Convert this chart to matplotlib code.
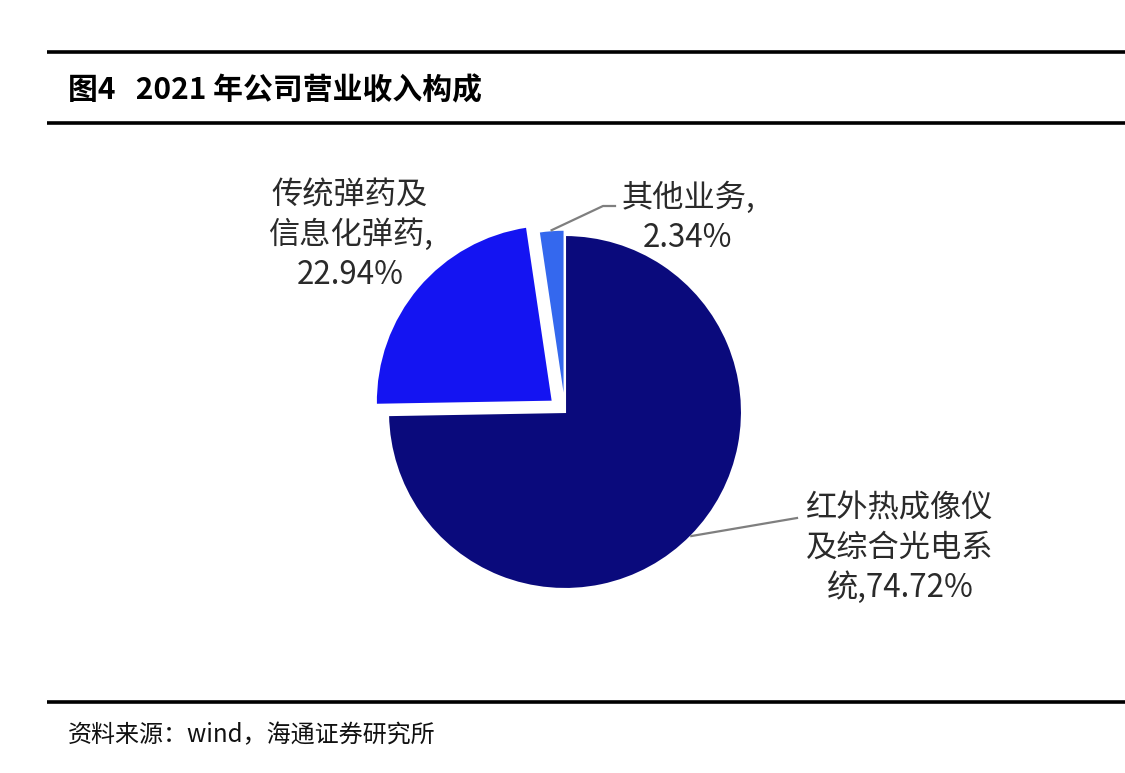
import matplotlib
matplotlib.use('Agg')
import matplotlib.pyplot as plt
import numpy as np

plt.rcParams['font.family'] = ['Noto Sans CJK SC', 'DejaVu Sans']

# data
labels = ['其他业务,\n2.34%', '传统弹药及\n信息化弹药,\n22.94%', '红外热成像仪\n及综合光电系\n统,74.72%']
shares = [2.34, 22.94, 74.72]
colors = ['#3468ee', '#1414f2', '#0a0a7c']
explode = [0.03, 0.09, 0.0]

title = '图4   2021 年公司营业收入构成'
source = '资料来源：wind，海通证券研究所'

W, H = 1125, 773
fig = plt.figure(figsize=(W / 100, H / 100), dpi=100)
ax = fig.add_axes([0, 0, 1, 1])

cx, cy, r = 565, H - 412, 177
# pie explode is in data units, so scale by radius
wedges, _ = ax.pie(shares, colors=colors, explode=[e * r for e in explode], startangle=90,
                   counterclock=True, center=(cx, cy), radius=r,
                   wedgeprops=dict(edgecolor='white', linewidth=1.5))
ax.set_xlim(0, W)
ax.set_ylim(0, H)
ax.set_aspect('auto')
ax.axis('off')

# frame lines
for y in (52, 123, 702):
    ax.plot([47, W], [H - y, H - y], color='black', lw=2.6, solid_capstyle='butt')

ax.text(68, H - 90, title, fontsize=21.5, fontweight='bold', va='center', ha='left')
ax.text(68, H - 735, source, fontsize=17.3, va='center', ha='left', color='#111111')

# labels with leader lines
txt_pos = [(688, H - 218), (350, H - 235), (900, H - 548)]
line_end = [[(603, H - 206), (615, H - 206)], None, [(797, H - 518)]]
for i, w in enumerate(wedges):
    mid = np.deg2rad((w.theta1 + w.theta2) / 2)
    ex = explode[i] * r
    ax.text(txt_pos[i][0], txt_pos[i][1], labels[i], fontsize=22.5, ha='center', va='center',
            color='#2a2a2a', linespacing=1.3, fontweight='light')
    if line_end[i] is not None:
        x0 = cx + (r + ex) * np.cos(mid)
        y0 = cy + (r + ex) * np.sin(mid)
        pts = [(x0, y0)] + line_end[i]
        ax.plot([p[0] for p in pts], [p[1] for p in pts], color='#7f7f7f', lw=1.6)

fig.savefig('out.png', dpi=100, facecolor='white')
